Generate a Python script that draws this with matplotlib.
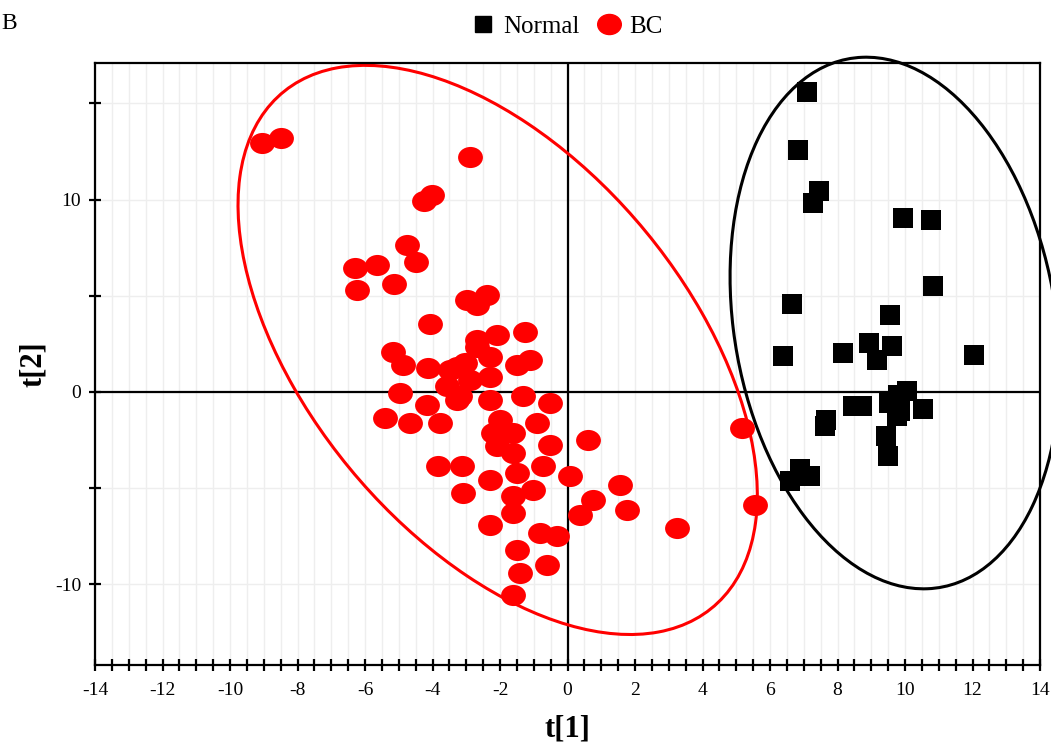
import numpy as np
import matplotlib.pyplot as plt
from matplotlib.patches import Ellipse
from matplotlib.markers import MarkerStyle
from matplotlib.transforms import Affine2D
from matplotlib.lines import Line2D
from matplotlib.ticker import MultipleLocator

plt.rcParams['font.family'] = ['Liberation Serif', 'DejaVu Serif']
plt.rcParams['axes.unicode_minus'] = False

# score values
normal_t1 = [7.09, 6.82, 7.46, 7.28, 9.95, 10.77, 10.84, 6.64, 9.54, 8.94,
             9.62, 9.16, 6.39, 8.15, 12.05, 10.05, 8.47, 8.72, 9.51, 9.75,
             10.52, 7.65, 7.63, 9.44, 9.50, 6.89, 7.19, 6.59, 9.80, 9.85]
normal_t2 = [15.6, 12.6, 10.44, 9.83, 9.02, 8.94, 5.52, 4.55, 4.0, 2.56,
             2.41, 1.66, 1.84, 2.01, 1.92, 0.02, -0.73, -0.76, -0.59, -1.28,
             -0.90, -1.45, -1.80, -2.29, -3.36, -4.02, -4.40, -4.61, -0.16, -1.02]

bc_t1 = [-9.05, -8.49, -2.89, -4.25, -4.01, -4.76, -4.49, -6.30, -5.65, -6.23,
         -5.14, -2.99, -2.39, -2.69, -4.07, -2.10, -1.26, -2.69, -5.16, -4.87,
         -4.12, -3.48, -4.96, -4.17, -5.41, -4.67, -3.78, -3.58, -3.19, -3.04,
         -2.69, -2.30, -1.11, -1.51, -3.28, -2.89, -2.30, -3.28, -2.30, -1.31,
         -0.52, -0.91, -2.00, -2.20, -1.61, -0.52, -2.10, -1.61, -3.83, -3.13,
         -2.30, -1.51, -0.72, 0.07, -3.09, -1.61, -1.01, -1.61, -2.30, -0.81,
         -0.32, -1.51, -0.62, -1.41, -1.61, 0.62, 1.56, 0.76, 0.37, 1.75,
         3.24, 5.16, 5.56]
bc_t2 = [12.94, 13.19, 12.20, 9.92, 10.23, 7.64, 6.77, 6.43, 6.60, 5.30,
         5.59, 4.78, 5.04, 4.52, 3.53, 2.96, 3.13, 2.70, 2.09, 1.40,
         1.23, 1.14, -0.07, -0.68, -1.37, -1.63, -1.63, 0.28, -0.24, 1.49,
         2.35, 1.83, 1.66, 1.40, 1.31, 0.62, 0.79, -0.42, -0.42, -0.24,
         -0.59, -1.63, -1.45, -2.15, -2.15, -2.75, -2.84, -3.18, -3.88, -3.88,
         -4.57, -4.22, -3.88, -4.40, -5.26, -5.44, -5.09, -6.30, -6.91, -7.34,
         -7.52, -8.21, -8.99, -9.42, -10.55, -2.49, -4.83, -5.61, -6.39, -6.13,
         -7.08, -1.89, -5.87]

# confidence ellipses: centre, width, height, angle (data units)
bc_ellipse = ((-2.07, 2.18), 30.84, 12.7, 108)
normal_ellipse = ((9.70, 3.58), 27.7, 9.6, 94)

fig = plt.figure(figsize=(10.51, 7.48), dpi=100)
ax = fig.add_axes([0.0904, 0.111, 0.8992, 0.8048])

ax.set_xlim(-14, 14)
ax.set_ylim(-14.2, 17.1)

# light grid
ax.xaxis.set_major_locator(MultipleLocator(2))
ax.xaxis.set_minor_locator(MultipleLocator(0.5))
ax.yaxis.set_major_locator(MultipleLocator(10))
ax.yaxis.set_minor_locator(MultipleLocator(5))
ax.grid(True, which='both', color='#eeeeee', lw=1.0, zorder=0)
ax.set_axisbelow(True)

ax.axhline(0, color='black', lw=1.6, zorder=1)
ax.axvline(0, color='black', lw=1.6, zorder=1)

for (c, w, h, a), col in [(bc_ellipse, 'red'), (normal_ellipse, 'black')]:
    e = Ellipse(c, w, h, angle=a, fill=False, edgecolor=col, lw=2.2,
                zorder=2, clip_on=False)
    ax.add_patch(e)

oval = MarkerStyle('o', transform=Affine2D().scale(1, 0.85))
ax.scatter(bc_t1, bc_t2, s=320, marker=oval, color='#ff0000', lw=0, zorder=3)
ax.scatter(normal_t1, normal_t2, s=220, marker='s', color='black', lw=0, zorder=3)

for sp in ax.spines.values():
    sp.set_linewidth(1.6)

ax.tick_params(which='both', direction='inout', length=8, width=1.6,
               labelsize=14, top=False, right=False)
ax.tick_params(axis='x', pad=8)
ax.tick_params(axis='y', pad=6)

ax.set_xlabel('t[1]', fontsize=22, fontweight='bold')
ax.set_ylabel('t[2]', fontsize=22, fontweight='bold')
ax.xaxis.set_label_coords(0.5, -0.083)
ax.yaxis.set_label_coords(-0.05, 0.5)

handles = [
    Line2D([], [], marker='s', color='black', ls='none', markersize=12),
    Line2D([], [], marker=oval, color='#ff0000', ls='none', markersize=17),
]
fig.legend(handles, ['Normal', 'BC'], loc='center', bbox_to_anchor=(0.538, 0.964),
           ncol=2, frameon=False, fontsize=18, handletextpad=0.2,
           columnspacing=0.6, handlelength=1.2)

fig.text(0.001, 0.968, 'B', fontsize=17, va='center', ha='left')

fig.savefig('out.png', dpi=100)
